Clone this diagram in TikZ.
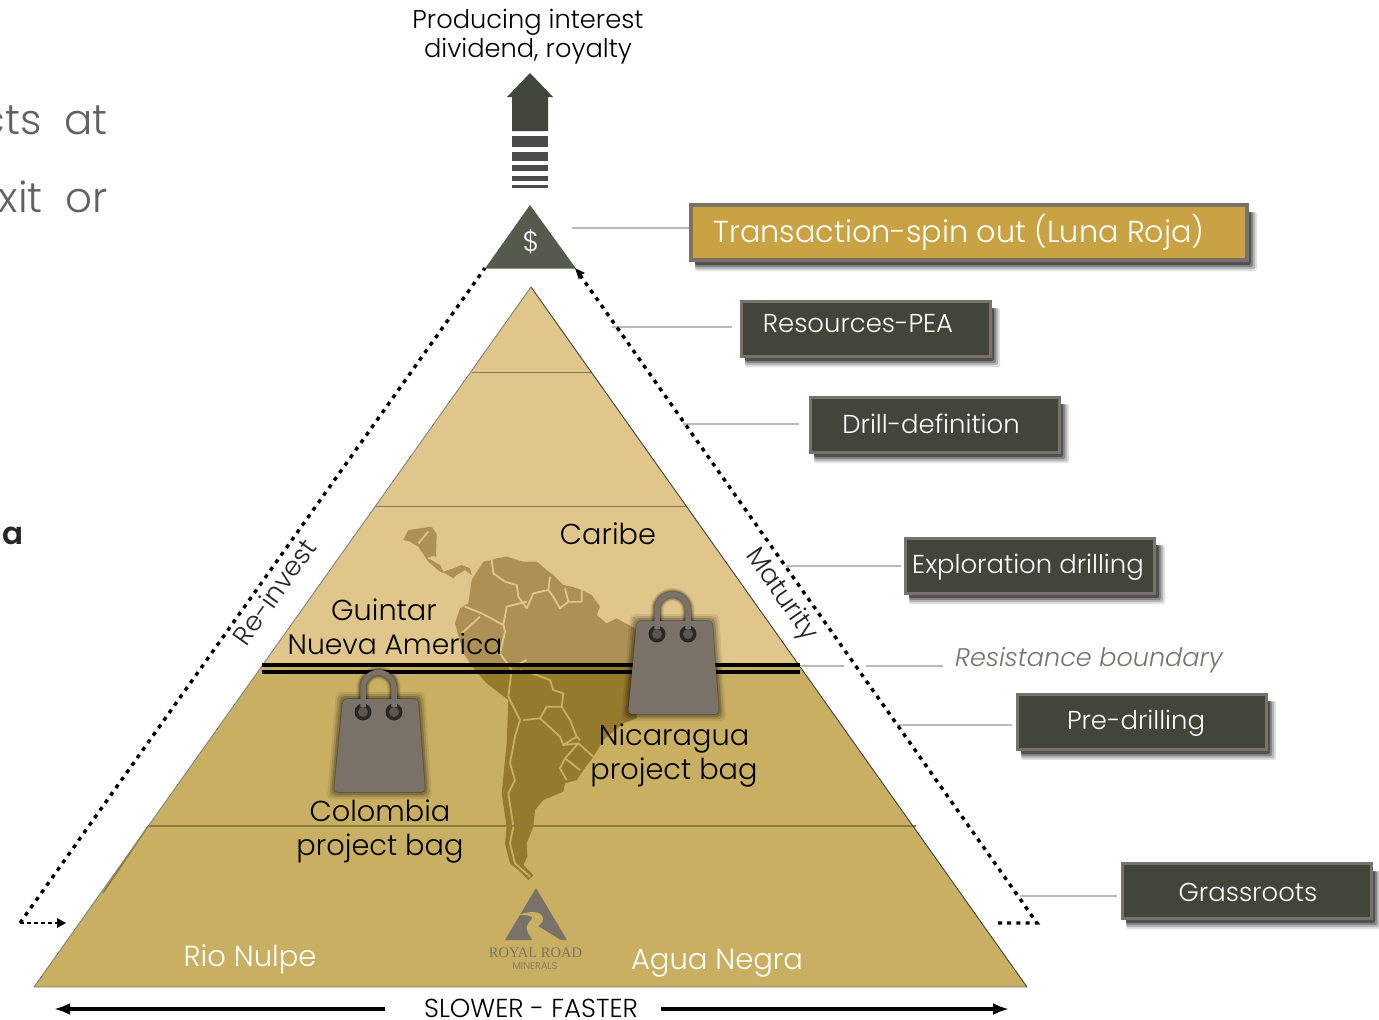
\documentclass[tikz,border=0pt]{standalone}
\usepackage{fontspec}
\setmainfont{Poppins}[UprightFont=* Light,BoldFont=* SemiBold,ItalicFont=* Light Italic]
\newfontfamily\logofont{Liberation Serif}
\usetikzlibrary{arrows.meta}
\definecolor{upgold}{HTML}{E0C68A}
\definecolor{lowgold}{HTML}{C8AF62}
\definecolor{mapup}{HTML}{AD9154}
\definecolor{maplow}{HTML}{967A2C}
\definecolor{darkbox}{HTML}{41453A}
\definecolor{boxedge}{HTML}{7A7268}
\definecolor{goldbox}{HTML}{C9A343}
\definecolor{bagcol}{HTML}{7A7268}
\definecolor{leadcol}{HTML}{B9B9B9}
\definecolor{inktop}{HTML}{555A4D}
\definecolor{stripe}{HTML}{4B4B4B}
\tikzset{
 darkstage/.style={draw=boxedge,line width=3pt,fill=darkbox,minimum width=249pt,minimum height=55pt,inner sep=0pt},
 goldstage/.style={draw=boxedge,line width=3.5pt,fill=goldbox,minimum width=556pt,minimum height=55pt,inner sep=0pt},
 stagetext/.style={text=white,inner sep=0pt,font=\fontsize{25.9}{30}\selectfont},
 leader/.style={draw=leadcol,line width=1.6pt},
 tier/.style={line width=0.8pt},
 bodytext/.style={text=black,inner sep=0pt,align=center,font=\fontsize{28.8}{33.6}\selectfont},
 whitetext/.style={text=white,inner sep=0pt,font=\fontsize{29}{33}\selectfont},
 dottedpath/.style={draw=black,line width=3.4pt,dash pattern=on 4pt off 5.2pt},
 sidetext/.style={text=black!85,inner sep=0pt,font=\fontsize{26.5}{33}\selectfont},
}
\newcommand{\softbox}[4]{%
 \foreach \d/\o in {7/.12,5/.18,3/.26,1/.4}{
  \fill[black,opacity=\o,rounded corners=2pt] (#1+5,#2+8) rectangle (#3+2+\d,#4+3+\d);
 }}
\newcommand{\mapshape}[2]{%
 \begin{scope}[shift={(390,510)},x=0.33333pt,y=-0.33333pt]
  \fill[#1] (245,210)--(280,155)--(305,150)--(320,145)--(350,140)--(400,155)--(440,155)--(470,180)--(490,195)--(520,225)--(545,230)--(575,240)--(605,255)--(630,290)--(620,315)--(650,340)--(680,325)--(735,355)--(760,450)--(740,625)--(700,640)--(640,690)--(610,740)--(580,780)--(560,810)--(525,820)--(520,845)--(460,870)--(435,900)--(430,950)--(410,1000)--(412,1040)--(400,1065)--(430,1095)--(415,1110)--(385,1080)--(360,1060)--(345,1000)--(350,950)--(335,850)--(350,700)--(355,570)--(290,520)--(255,480)--(220,430)--(195,340)--(210,295)--(235,280)--cycle;
  \fill[#1] (40,90)--(55,60)--(125,50)--(140,72)--(138,140)--(115,145)--(150,165)--(160,185)--(190,175)--(215,165)--(240,175)--(245,195)--(225,180)--(200,195)--(190,205)--(165,190)--(150,185)--(115,155)--(85,110)--(60,95)--cycle;
  \draw[#2,line width=1.8pt,line join=round]
   (305,150)--(310,190)--(345,215)--(380,225)--(385,260)--(410,295)--(430,250)--(475,240)--(480,200)
   (475,240)--(490,260)--(510,295)--(535,275)--(525,235)
   (535,275)--(575,275)--(575,240)
   (225,290)--(275,310)--(340,345)--(350,290)--(410,275)
   (270,320)--(215,370)
   (340,345)--(345,365)--(330,430)--(365,480)--(355,560)--(390,630)
   (370,470)--(410,450)
   (390,480)--(440,495)--(480,510)--(490,540)--(520,550)--(515,590)--(540,630)--(560,680)--(570,690)
   (515,590)--(470,590)--(450,625)--(400,630)
   (390,630)--(375,680)--(360,760)--(375,810)--(355,850)--(370,950)--(360,1000)--(375,1060)--(420,1100)
   (450,625)--(510,680)--(520,705)--(560,680)
   (520,705)--(565,700)--(525,745)--(570,780)
   (565,700)--(610,740)
   (525,745)--(510,775)--(530,810)
   (115,65)--(85,100)
   (115,145)--(135,140);
 \end{scope}}
\newcommand{\bagshape}[2]{%
 \begin{scope}[shift={(#1,#2)}]
  \foreach \d/\o in {7/.08,5/.12,3/.18,1/.25}{
   \fill[black,opacity=\o,rounded corners=5pt] (9-\d,31-\d)--(84+\d,31-\d)--(91+\d,124+\d)--(0-\d,124+\d)--cycle;
   \draw[black,opacity=\o,line width=6pt+\d pt] (29,43)--(29,20) arc[start angle=180,end angle=360,radius=15.5]--(60,43);
  }
  \fill[bagcol,rounded corners=4pt] (9,31)--(84,31)--(91,124)--(0,124)--cycle;
  \fill[black!65!bagcol] (29,44) circle[radius=8.5];
  \fill[black!65!bagcol] (60,44) circle[radius=8.5];
  \fill[bagcol!75!black] (29,44) circle[radius=5];
  \fill[bagcol!75!black] (60,44) circle[radius=5];
  \draw[bagcol,line width=5.5pt] (29,39)--(29,20) arc[start angle=180,end angle=360,radius=15.5]--(60,39);
 \end{scope}}
\begin{document}
\begin{tikzpicture}[x=1pt,y=-1pt]
\useasboundingbox (0,0) rectangle (1379,1020);
\fill[white] (0,0) rectangle (1379,1020);
% cut-off text at left
\node[anchor=east,inner sep=0pt,text=black!62,font=\fontsize{42}{50}\selectfont] (frag1) at (108,120) {cts\ \ at};
\node[anchor=east,inner sep=0pt,text=black!62,font=\fontsize{42}{50}\selectfont] (frag2) at (108,197) {xit\ \ or};
\node[anchor=east,inner sep=0pt,text=black!85,font=\fontsize{31}{36}\selectfont\bfseries] (frag3) at (24,536) {a};
% pyramid
\fill[lowgold] (34,987)--(263,665)--(799,665)--(1027,987)--cycle;
\fill[upgold] (263,665)--(531,287)--(799,665)--cycle;
\begin{scope}
 \clip (0,200) rectangle (1379,667);
 \mapshape{mapup}{upgold}
\end{scope}
\begin{scope}
 \clip (0,667) rectangle (1379,1000);
 \mapshape{maplow}{lowgold}
\end{scope}
\draw[black!40!upgold,tier] (472,372)--(591,372);
\draw[black!40!upgold,tier] (375,506)--(687,506);
\draw[black!30!lowgold,line width=1.2pt] (148,826)--(916,826);
\draw[black!35!lowgold,line width=1.2pt] (148,826)--(103,893);
\draw[black!75,line width=0.9pt] (531,287)--(1027,987);
\draw[black!50,line width=0.9pt] (531,287)--(34,987)--(1027,987);
% resistance lines
\draw[black,line width=4pt] (262,664.5)--(800,664.5);
\draw[black,line width=4pt] (262,671.5)--(800,671.5);
% bags
\bagshape{628}{590}
\bagshape{334}{668}
% apex
\fill[inktop] (530,205)--(485,268.5)--(576,268.5)--cycle;
\node[text=white,inner sep=0pt,font=\fontsize{28}{32}\selectfont] (dollar) at (531,242) {\$};
% up arrow
\fill[darkbox] (530,73)--(553,97)--(548,97)--(548,131)--(512,131)--(512,97)--(507,97)--cycle;
\fill[stripe] (512,136) rectangle (548,147);
\fill[stripe] (512,152) rectangle (548,161);
\fill[stripe] (512,165) rectangle (548,171);
\fill[stripe] (512,176) rectangle (548,181);
\fill[stripe] (512,185) rectangle (548,188);
\node[bodytext,font=\fontsize{25.7}{29}\selectfont] (top) at (528,37) {Producing interest\\dividend, royalty};
% stage boxes
\softbox{690}{204}{1248}{261}
\softbox{740}{300}{991}{357}
\softbox{809}{396}{1060}{453}
\softbox{904}{537}{1156}{594}
\softbox{1016}{693}{1267}{750}
\softbox{1121}{863}{1372}{919}
\node[goldstage] (bT) at (969,232.5) {};
\node[darkstage] (bR) at (865.5,328.5) {};
\node[darkstage] (bD) at (934.5,424.5) {};
\node[darkstage] (bE) at (1030,565.5) {};
\node[darkstage] (bP) at (1141.5,721.5) {};
\node[darkstage] (bG) at (1246.5,891) {};
\node[stagetext,font=\fontsize{30.3}{36}\selectfont] (tT) at (959,232) {Transaction-spin out (Luna Roja)};
\node[stagetext] (tR) at (858,324) {Resources-PEA};
\node[stagetext] (tD) at (931,424) {Drill-definition};
\node[stagetext] (tE) at (1028,567) {Exploration drilling};
\node[stagetext] (tP) at (1136,723) {Pre-drilling};
\node[stagetext] (tG) at (1248,892) {Grassroots};
\node[inner sep=0pt,text=boxedge,font=\fontsize{25.5}{30}\selectfont\itshape] (tB) at (1089,660) {Resistance boundary};
% leaders
\coordinate (l1) at (572,228);
\coordinate (l2) at (612,327);
\coordinate (l3) at (683,424);
\coordinate (l4) at (786,566);
\coordinate (l5) at (800,666);
\coordinate (l5a) at (844,666);
\coordinate (l5b) at (866,666);
\coordinate (l5c) at (943,666);
\coordinate (l6) at (897,725);
\coordinate (l7) at (1020,896);
\draw[leader] (l1)--(l1-|bT.west);
\draw[leader,shorten >=8pt] (l2)--(l2-|bR.west);
\draw[leader,shorten >=10pt] (l3)--(l3-|bD.west);
\draw[leader,shorten >=3pt] (l4)--(l4-|bE.west);
\draw[leader] (l5)--(l5a);
\draw[leader] (l5b)--(l5c);
\draw[leader,shorten >=4pt] (l6)--(l6-|bP.west);
\draw[leader,shorten >=4pt] (l7)--(l7-|bG.west);
% dotted paths
\coordinate (rb) at (1037,923);
\coordinate (rs) at (998,923);
\coordinate (rt) at (575,268);
\coordinate (lb) at (20,923);
\coordinate (lt) at (485,268);
\coordinate (la) at (66,923);
\draw[dottedpath] (rs)--(rb)--(580,275);
\fill[black] (rt)--(585,273)--(580.5,275)--(579,280)--cycle;
\draw[dottedpath] (lb)--(lt);
\draw[black,line width=1.5pt,dash pattern=on 4pt off 3pt] (lb)--(58,923);
\fill[black] (la)--(57,918)--(57,928)--cycle;
% side labels
\node[sidetext,rotate=54.5] (tRe) at (274,592) {Re-invest};
\node[sidetext,rotate=-55] (tMa) at (781,595) {Maturity};
% texts on the pyramid
\node[bodytext] (tC) at (608,534) {Caribe};
\node[bodytext] (tGu) at (384,610) {Guintar};
\node[bodytext,font=\fontsize{28.2}{33}\selectfont] (tNu) at (395,644) {Nueva America};
\node[bodytext] (tNi) at (674,755.5) {Nicaragua\\project bag};
\node[bodytext] (tCo) at (380,831.5) {Colombia\\project bag};
\node[whitetext] (tRN) at (250,959) {Rio Nulpe};
\node[whitetext] (tAN) at (717,963) {Agua Negra};
% logo
\fill[boxedge] (536,888)--(567,940)--(505,940)--cycle;
\fill[lowgold] (519,915) .. controls (528,911) and (543,910) .. (543,919) .. controls (543,923) and (539,925) .. (538,926) -- (562,941) -- (533,941) .. controls (530,935) and (524,930) .. (528,924) .. controls (531,919) and (535,917) .. (530,916) .. controls (527,915) and (523,915) .. (519,915);
\node[inner sep=0pt,text=boxedge,font=\fontsize{14.5}{14}\selectfont\logofont] (tL1) at (535.5,953) {ROYAL ROAD};
\node[inner sep=0pt,text=boxedge,font=\fontsize{10}{10}\selectfont] (tL2) at (535,966) {MINERALS};
% slower-faster
\node[inner sep=0pt,text=black,font=\fontsize{26}{29}\selectfont] (tS) at (531,1008) {SLOWER - FASTER};
\coordinate (sl) at (54,1009);
\coordinate (sr) at (1009,1009);
\coordinate (sl0) at (385,1009);
\coordinate (sr0) at (661,1009);
\draw[black,line width=3.5pt,-{Latex[length=16pt,width=12pt]}] (sl0)--(sl);
\draw[black,line width=3.5pt,-{Latex[length=16pt,width=12pt]}] (sr0)--(sr);
\end{tikzpicture}
\end{document}
